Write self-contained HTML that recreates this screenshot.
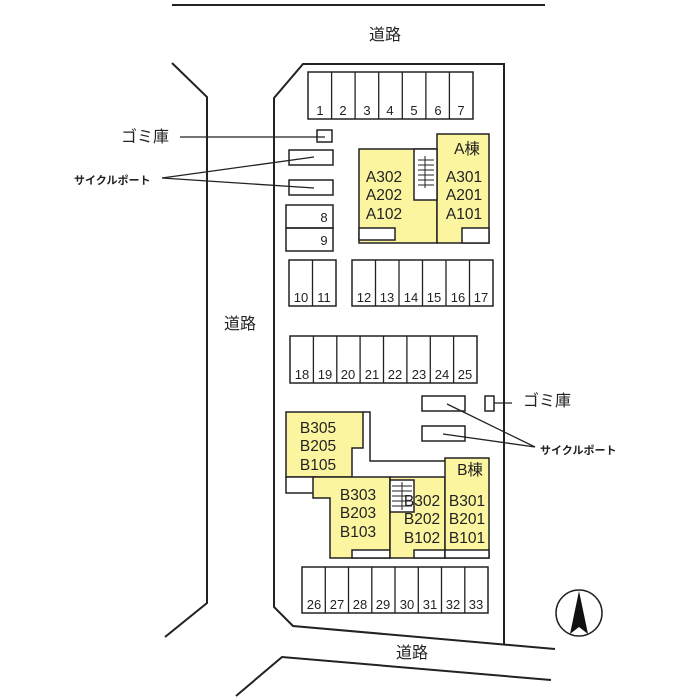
<!DOCTYPE html>
<html><head><meta charset="utf-8"><style>
html,body{margin:0;padding:0;background:#fff}
svg{display:block}
text{font-family:"Liberation Sans","Noto Sans CJK JP",sans-serif;fill:#222}
</style></head><body>
<svg width="700" height="700" viewBox="0 0 700 700" xmlns="http://www.w3.org/2000/svg">
<g fill="none" stroke="#222" stroke-width="2">
<line x1="172" y1="5" x2="545" y2="5"/>
<polyline points="172,63 207,97 207,603 165,637"/>
<polyline points="505,64 303,64 274,98 274,607 293,626 555,649"/>
<line x1="504" y1="64" x2="504" y2="645"/>
<polyline points="236,696 282,657 551,680"/>
</g>
<g stroke="#222" stroke-width="1.5" fill="none">
<rect x="308" y="72" width="165" height="47"/>
<rect x="286" y="205" width="47" height="23"/><rect x="286" y="228" width="47" height="23"/>
<rect x="289" y="260" width="47" height="46"/>
<rect x="352" y="260" width="141" height="46"/>
<rect x="290" y="336" width="187" height="47"/>
<rect x="302" y="567" width="186" height="46"/>
<rect x="317" y="130" width="15" height="12"/>
<rect x="289" y="150" width="44" height="15"/>
<rect x="289" y="180" width="44" height="15"/>
<rect x="485" y="396" width="9" height="15"/>
<rect x="422" y="396" width="43" height="15"/>
<rect x="422" y="426" width="43" height="15"/>
</g>
<g stroke="#222" stroke-width="1.3">
<line x1="331.6" y1="72" x2="331.6" y2="119"/><line x1="355.1" y1="72" x2="355.1" y2="119"/><line x1="378.7" y1="72" x2="378.7" y2="119"/><line x1="402.3" y1="72" x2="402.3" y2="119"/><line x1="425.9" y1="72" x2="425.9" y2="119"/><line x1="449.4" y1="72" x2="449.4" y2="119"/>
<line x1="312.5" y1="260" x2="312.5" y2="306"/>
<line x1="375.5" y1="260" x2="375.5" y2="306"/><line x1="399" y1="260" x2="399" y2="306"/><line x1="422.5" y1="260" x2="422.5" y2="306"/><line x1="446" y1="260" x2="446" y2="306"/><line x1="469.5" y1="260" x2="469.5" y2="306"/>
<line x1="313.4" y1="336" x2="313.4" y2="383"/><line x1="336.8" y1="336" x2="336.8" y2="383"/><line x1="360.1" y1="336" x2="360.1" y2="383"/><line x1="383.5" y1="336" x2="383.5" y2="383"/><line x1="406.9" y1="336" x2="406.9" y2="383"/><line x1="430.3" y1="336" x2="430.3" y2="383"/><line x1="453.6" y1="336" x2="453.6" y2="383"/>
<line x1="325.3" y1="567" x2="325.3" y2="613"/><line x1="348.5" y1="567" x2="348.5" y2="613"/><line x1="371.8" y1="567" x2="371.8" y2="613"/><line x1="395" y1="567" x2="395" y2="613"/><line x1="418.3" y1="567" x2="418.3" y2="613"/><line x1="441.5" y1="567" x2="441.5" y2="613"/><line x1="464.8" y1="567" x2="464.8" y2="613"/>
<line x1="180" y1="137" x2="325" y2="137"/>
<line x1="162" y1="178" x2="314" y2="157"/><line x1="162" y1="178" x2="314" y2="188"/>
<line x1="494" y1="403" x2="512" y2="403"/>
<line x1="447" y1="404" x2="535" y2="447"/><line x1="443" y1="434" x2="535" y2="447"/>
</g>
<g stroke="#222" stroke-width="1.5">
<rect x="359" y="149" width="78" height="94" fill="#fbf5a0"/>
<rect x="437" y="134" width="52" height="109" fill="#fbf5a0"/>
<rect x="359" y="228" width="36" height="12" fill="#fff"/>
<rect x="462" y="228" width="27" height="15" fill="#fff"/>
<rect x="414" y="149" width="23" height="51" fill="#fff"/>
</g>
<g stroke="#222" stroke-width="1"><line x1="418" y1="160" x2="434" y2="160"/><line x1="418" y1="165" x2="434" y2="165"/><line x1="418" y1="170" x2="434" y2="170"/><line x1="418" y1="175" x2="434" y2="175"/><line x1="418" y1="180" x2="434" y2="180"/><line x1="418" y1="185" x2="434" y2="185"/><line x1="425" y1="156" x2="425" y2="188"/></g>
<g stroke="#222" stroke-width="1.5">
<polyline points="363,412 370,412 370,461 445,461" fill="none"/>
<polygon points="286,412 363,412 363,448 352,448 352,477 286,477" fill="#fbf5a0"/>
<rect x="286" y="477" width="30" height="16" fill="#fff"/>
<polygon points="313,477 390,477 390,558 330,558 330,498 313,498" fill="#fbf5a0"/>
<rect x="352" y="550" width="38" height="8" fill="#fff"/>
<polygon points="390,477 445,477 445,558 390,558" fill="#fbf5a0"/>
<rect x="390" y="480" width="24" height="32" fill="#fff"/>
<rect x="414" y="550" width="31" height="8" fill="#fff"/>
<rect x="445" y="458" width="44" height="100" fill="#fbf5a0"/>
<rect x="445" y="550" width="44" height="8" fill="#fff"/>
</g>
<g stroke="#222" stroke-width="1"><line x1="392" y1="486" x2="412" y2="486"/><line x1="392" y1="491" x2="412" y2="491"/><line x1="392" y1="496" x2="412" y2="496"/><line x1="392" y1="501" x2="412" y2="501"/><line x1="392" y1="506" x2="412" y2="506"/><line x1="402" y1="482" x2="402" y2="510"/></g>
<circle cx="579" cy="613" r="23" fill="none" stroke="#222" stroke-width="1.5"/>
<polygon points="579,591 570,634 579,627 588,634" fill="#111"/>
<g font-size="13" text-anchor="middle" textLength="14">
<text x="320" y="115">1</text><text x="343" y="115">2</text><text x="367" y="115">3</text><text x="390" y="115">4</text><text x="414" y="115">5</text><text x="438" y="115">6</text><text x="461" y="115">7</text>
<text x="324" y="222">8</text><text x="324" y="245">9</text>
<text x="301" y="302">10</text><text x="324" y="302">11</text>
<text x="364" y="302">12</text><text x="387" y="302">13</text><text x="411" y="302">14</text><text x="434" y="302">15</text><text x="458" y="302">16</text><text x="481" y="302">17</text>
<text x="302" y="379">18</text><text x="325" y="379">19</text><text x="348" y="379">20</text><text x="372" y="379">21</text><text x="395" y="379">22</text><text x="419" y="379">23</text><text x="442" y="379">24</text><text x="465" y="379">25</text>
<text x="314" y="609">26</text><text x="337" y="609">27</text><text x="360" y="609">28</text><text x="383" y="609">29</text><text x="407" y="609">30</text><text x="430" y="609">31</text><text x="453" y="609">32</text><text x="476" y="609">33</text>
</g>
<g font-size="15.5" text-anchor="middle">
<text x="384" y="182">A302</text><text x="384" y="200">A202</text><text x="384" y="219">A102</text>
<text x="464" y="182">A301</text><text x="464" y="200">A201</text><text x="464" y="219">A101</text>
<text x="467" y="154">A棟</text>
<text x="318" y="433">B305</text><text x="318" y="451">B205</text><text x="318" y="470">B105</text>
<text x="358" y="500">B303</text><text x="358" y="518">B203</text><text x="358" y="537">B103</text>
<text x="422" y="506">B302</text><text x="422" y="524">B202</text><text x="422" y="543">B102</text>
<text x="467" y="506">B301</text><text x="467" y="524">B201</text><text x="467" y="543">B101</text>
<text x="470" y="475">B棟</text>
</g>
<g font-size="16" text-anchor="middle">
<text x="385" y="40">道路</text><text x="240" y="329">道路</text><text x="412" y="658">道路</text>
<text x="145" y="142">ゴミ庫</text><text x="547" y="406">ゴミ庫</text>
</g>
<g font-size="11" font-weight="bold">
<text x="74" y="184">サイクルポート</text><text x="540" y="454">サイクルポート</text>
</g>
</svg>
</body></html>
